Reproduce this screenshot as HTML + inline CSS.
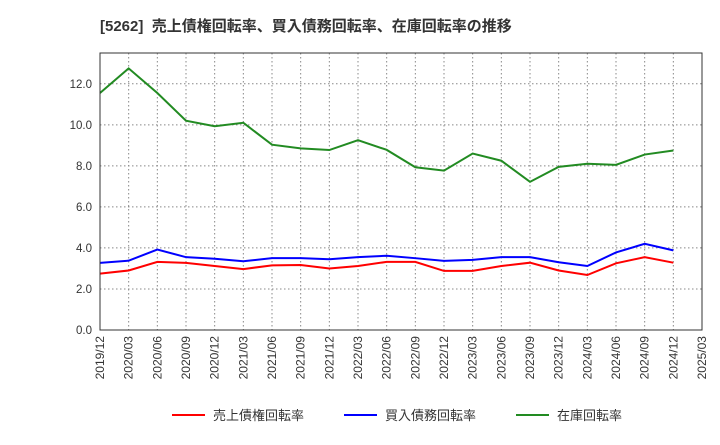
<!DOCTYPE html>
<html><head><meta charset="utf-8"><style>
body{margin:0;background:#fff;font-family:"Liberation Sans","Noto Sans CJK JP",sans-serif;}
</style></head><body>
<svg width="720" height="440" xmlns="http://www.w3.org/2000/svg" font-family="Liberation Sans, Noto Sans CJK JP, sans-serif">
<text x="100" y="31" font-size="15" font-weight="bold" fill="#333" xml:space="preserve">[5262]  売上債権回転率、買入債務回転率、在庫回転率の推移</text>
<g id="grid"></g>
<g id="series"></g>
<rect x="100" y="53" width="602" height="277" fill="none" stroke="#333"/>
<g id="axes" font-size="11.5" fill="#333"></g>
<g font-size="13" fill="#333">
<g><line x1="172" y1="415" x2="205" y2="415" stroke="#ff0000" stroke-width="2"/><text x="213" y="420">売上債権回転率</text></g>
<g><line x1="344" y1="415" x2="377" y2="415" stroke="#0000ff" stroke-width="2"/><text x="385" y="420">買入債務回転率</text></g>
<g><line x1="516" y1="415" x2="549" y2="415" stroke="#228b22" stroke-width="2"/><text x="557" y="420">在庫回転率</text></g>
</g>
</svg>
<script>
const categories=["2019/12","2020/03","2020/06","2020/09","2020/12","2021/03","2021/06","2021/09","2021/12","2022/03","2022/06","2022/09","2022/12","2023/03","2023/06","2023/09","2023/12","2024/03","2024/06","2024/09","2024/12","2025/03"];
const receivables=[2.75,2.9,3.32,3.27,3.12,2.97,3.15,3.17,3.0,3.12,3.32,3.32,2.88,2.88,3.12,3.28,2.9,2.68,3.25,3.55,3.28];
const payables=[3.27,3.38,3.92,3.55,3.47,3.35,3.5,3.5,3.45,3.55,3.62,3.5,3.37,3.42,3.55,3.55,3.3,3.12,3.78,4.2,3.88];
const inventory=[11.55,12.75,11.55,10.2,9.93,10.1,9.03,8.85,8.77,9.25,8.78,7.93,7.77,8.6,8.25,7.22,7.95,8.1,8.05,8.55,8.75];
const yTicks=[0,2,4,6,8,10,12];
const yTickLabels=["0.0","2.0","4.0","6.0","8.0","10.0","12.0"];
const NS="http://www.w3.org/2000/svg";
const X0=100,X1=702,Y0=330,YMAX=13.5,Y1=53;
const x=i=>X0+i*(X1-X0)/(categories.length-1);
const y=v=>Y0-v*(Y0-Y1)/YMAX;
function mk(tag,attrs,parent){const e=document.createElementNS(NS,tag);for(const k in attrs)e.setAttribute(k,attrs[k]);parent.appendChild(e);return e;}
const grid=document.getElementById('grid'),axes=document.getElementById('axes'),ser=document.getElementById('series');
categories.forEach((c,i)=>{
 const l=mk('line',{x1:x(i),x2:x(i),y1:Y1,y2:Y0,stroke:'#888','stroke-dasharray':'1.5,2.5'},grid);
 
 
 const t=mk('text',{transform:`translate(${x(i)+4},${Y0+6}) rotate(-90)`,'text-anchor':'end','font-size':'12'},axes);
 t.textContent=c;
 
 
});
yTicks.forEach((v,i)=>{
 const l=mk('line',{x1:X0,x2:X1,y1:y(v),y2:y(v),stroke:'#888','stroke-dasharray':'1.5,2.5'},grid);
 
 
 const t=mk('text',{x:X0-8,y:y(v)+4,'text-anchor':'end'},axes);
 t.textContent=yTickLabels[i];
 
 
});
[[inventory,'#228b22','inventory-line'],[payables,'#0000ff','payables-line'],[receivables,'#ff0000','receivables-line']].forEach(([d,col,n])=>{
 const p=mk('polyline',{points:d.map((v,i)=>x(i)+','+y(v)).join(' '),fill:'none',stroke:col,'stroke-width':2},ser);
 
 
});
</script>
</body></html>
